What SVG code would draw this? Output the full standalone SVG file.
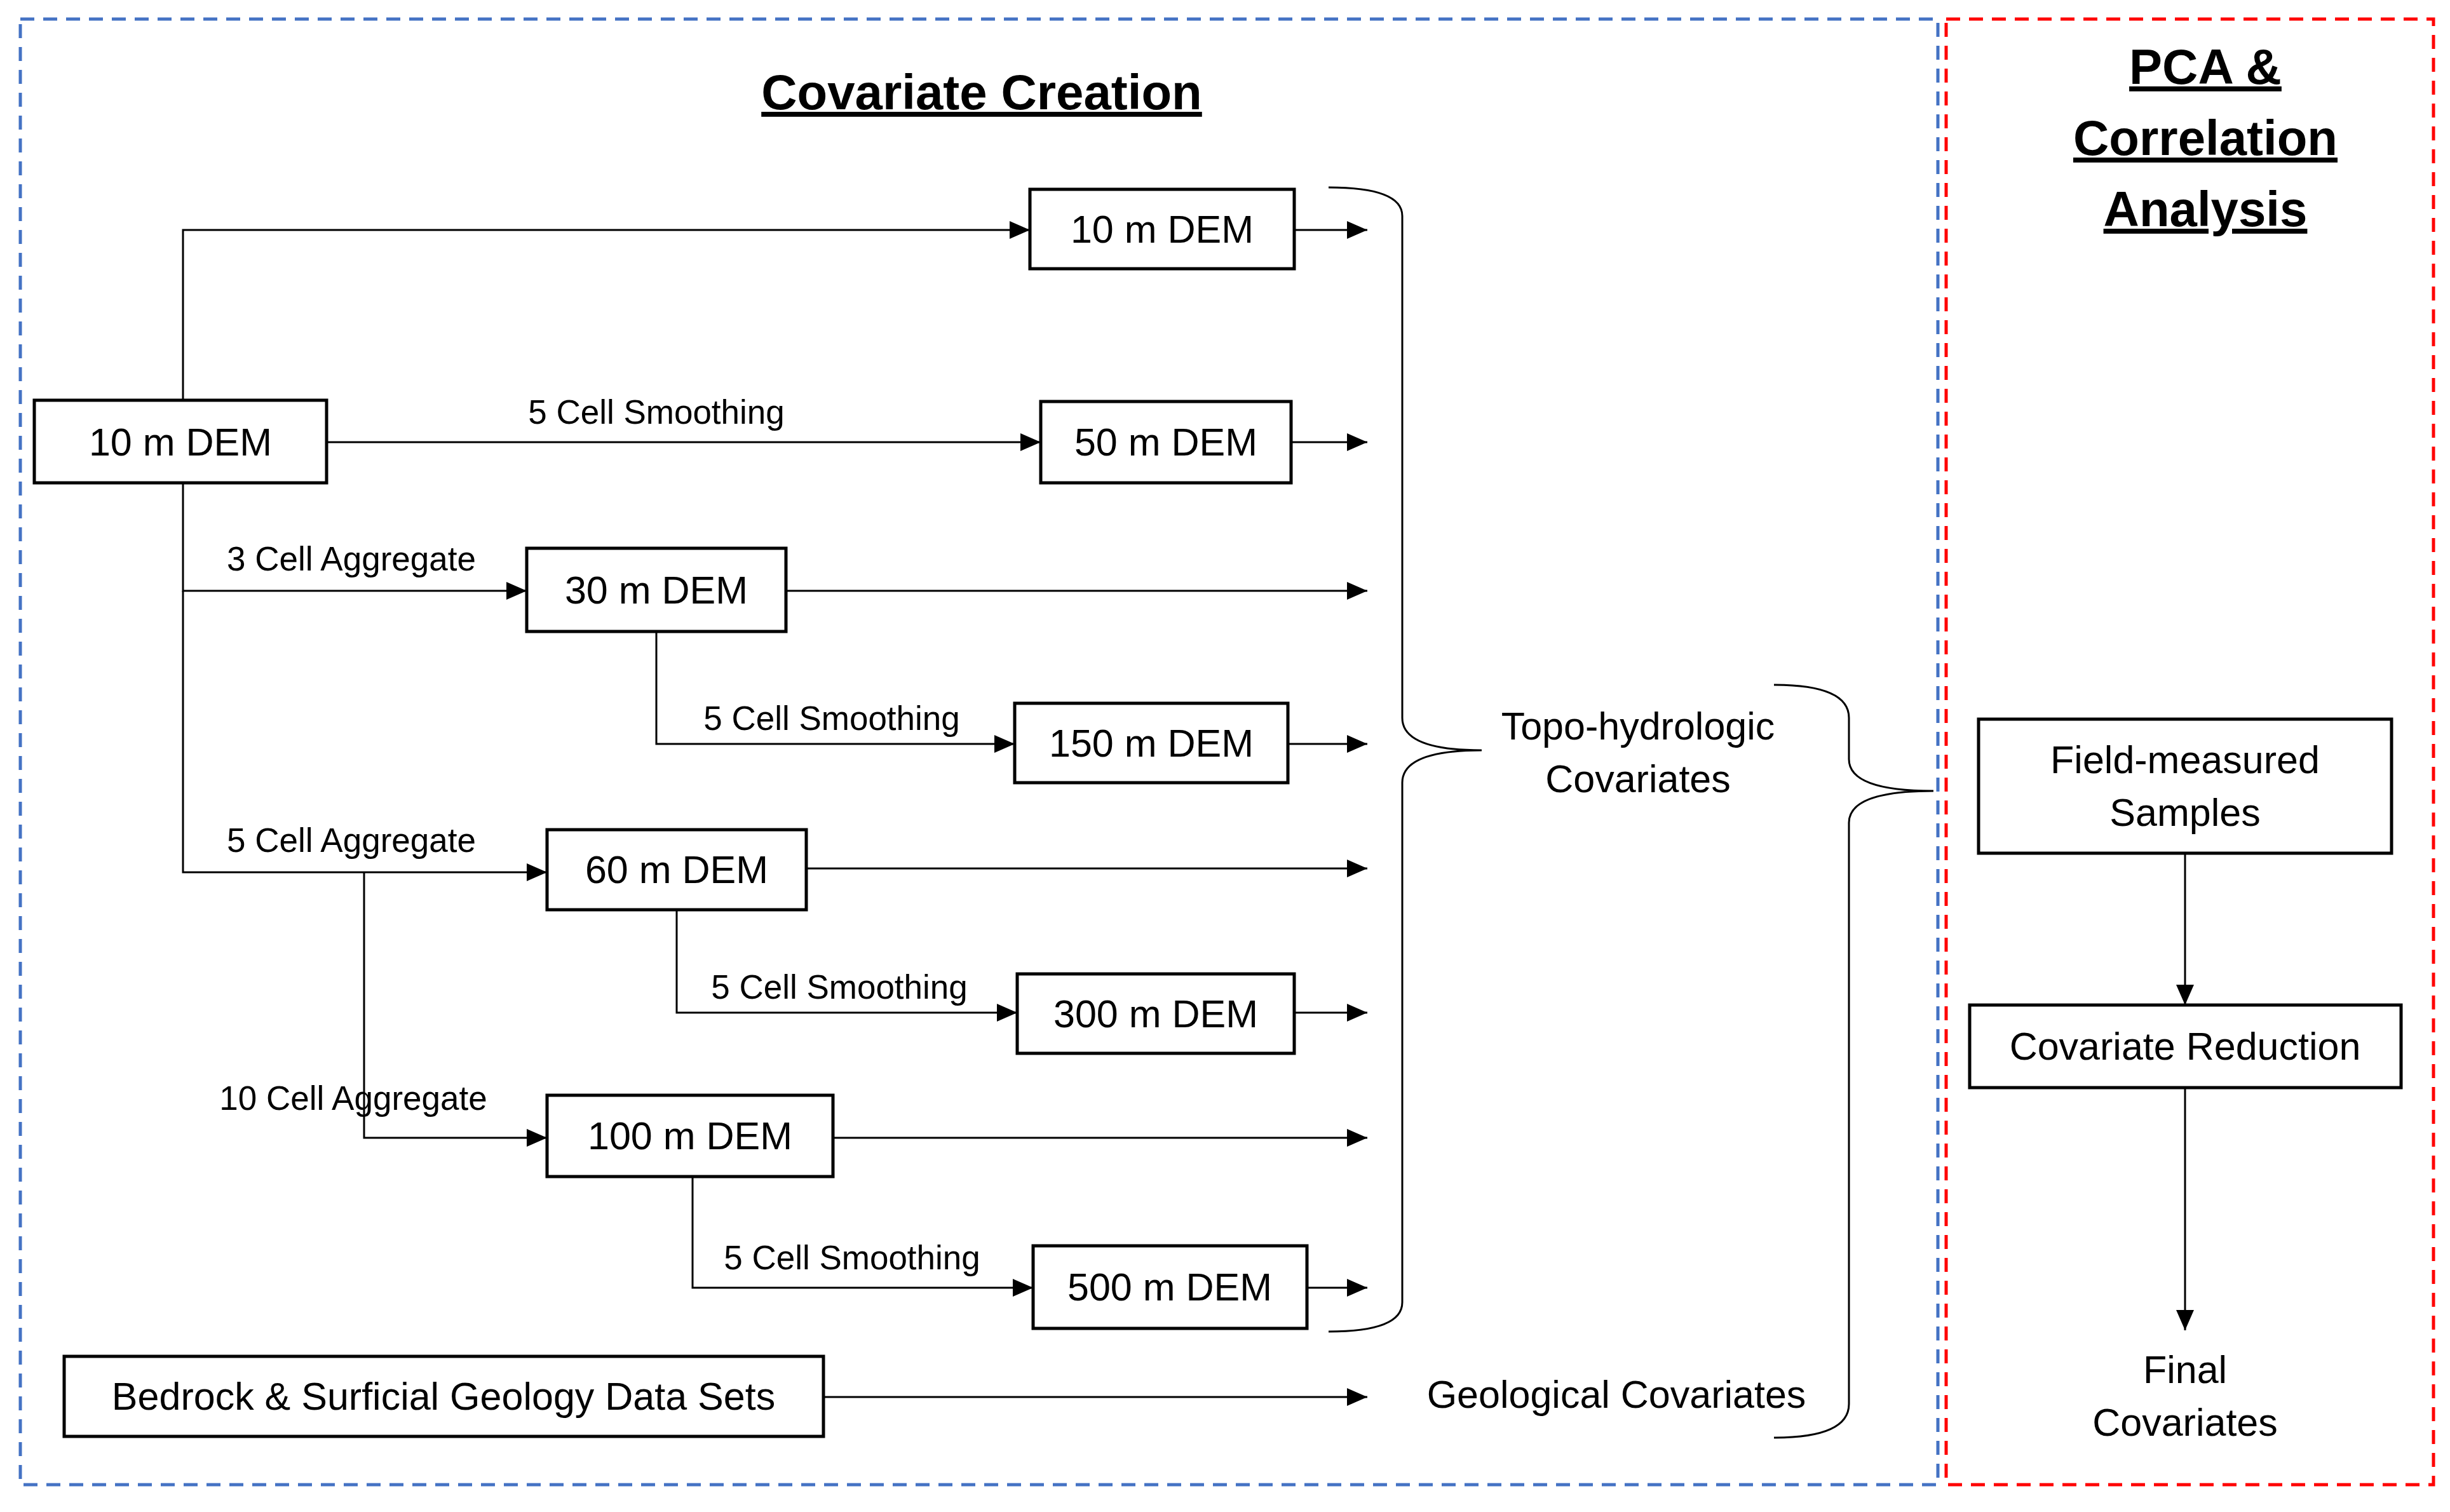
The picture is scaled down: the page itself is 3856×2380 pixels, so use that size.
<svg xmlns="http://www.w3.org/2000/svg" width="3856" height="2380" viewBox="0 0 3856 2380">
<style>
text{font-family:"Liberation Sans",Arial,sans-serif;fill:#000;text-anchor:middle}
.n{font-size:61px}.l{font-size:53px}.t{font-size:78px;font-weight:bold;text-decoration:underline}
.b{fill:#fff;stroke:#000;stroke-width:5}
.c{fill:none;stroke:#000;stroke-width:3;marker-end:url(#A)}
.br{fill:none;stroke:#000;stroke-width:3}
</style>
<defs>
<marker id="A" markerWidth="32" markerHeight="28" refX="32" refY="14" orient="auto" markerUnits="userSpaceOnUse"><path d="M0,0L32,14L0,28z" fill="#000"/></marker></defs>
<rect x="0" y="0" width="3856" height="2380" fill="#fff"/>
<rect x="32" y="30" width="3018" height="2307" fill="none" stroke="#4472C4" stroke-width="5" stroke-dasharray="22,14"/>
<rect x="3063" y="30" width="767" height="2307" fill="none" stroke="#FF0000" stroke-width="5" stroke-dasharray="22,14"/>
<text class="t" x="1545" y="172">Covariate Creation</text>
<text class="t" x="3471" y="132">PCA &amp;</text>
<text class="t" x="3471" y="244">Correlation</text>
<text class="t" x="3471" y="356">Analysis</text>
<g id="connectors">
<path class="c" d="M288,630V362H1621"/>
<path class="c" d="M514,696H1638"/>
<path class="c" d="M288,760V930H829"/>
<path class="c" d="M288,930V1373H861"/>
<path class="c" d="M573,1373V1791H861"/>
<path class="c" d="M1033,994V1171H1597"/>
<path class="c" d="M1065,1432V1594H1601"/>
<path class="c" d="M1090,1852V2027H1626"/>
<path class="c" d="M2037,362H2152"/>
<path class="c" d="M2032,696H2152"/>
<path class="c" d="M1237,930H2152"/>
<path class="c" d="M2027,1171H2152"/>
<path class="c" d="M1269,1367H2152"/>
<path class="c" d="M2037,1594H2152"/>
<path class="c" d="M1311,1791H2152"/>
<path class="c" d="M2057,2027H2152"/>
<path class="c" d="M1296,2199H2152"/>
<path class="c" d="M3439,1343V1582"/>
<path class="c" d="M3439,1712V2094"/>
<path class="br" d="M2091,295Q2207,295 2207,340L2207,1130Q2207,1181 2332,1181Q2207,1181 2207,1232L2207,2050Q2207,2096 2091,2096"/>
<path class="br" d="M2792,1078Q2910,1078 2910,1130L2910,1195Q2910,1245 3043,1245Q2910,1245 2910,1295L2910,2210Q2910,2263 2792,2263"/>
<text class="l" x="1033" y="667">5 Cell Smoothing</text>
<text class="l" x="553" y="898">3 Cell Aggregate</text>
<text class="l" x="553" y="1341">5 Cell Aggregate</text>
<text class="l" x="556" y="1747">10 Cell Aggregate</text>
<text class="l" x="1309" y="1149">5 Cell Smoothing</text>
<text class="l" x="1321" y="1572">5 Cell Smoothing</text>
<text class="l" x="1341" y="1998">5 Cell Smoothing</text>
</g>
<g id="n1"><rect class="b" x="1621" y="298" width="416" height="125"/><text class="n" x="1829" y="382">10 m DEM</text></g>
<g id="n2"><rect class="b" x="54" y="630" width="460" height="130"/><text class="n" x="284" y="717">10 m DEM</text></g>
<g id="n3"><rect class="b" x="1638" y="632" width="394" height="128"/><text class="n" x="1835" y="717">50 m DEM</text></g>
<g id="n4"><rect class="b" x="829" y="863" width="408" height="131"/><text class="n" x="1033" y="950">30 m DEM</text></g>
<g id="n5"><rect class="b" x="1597" y="1107" width="430" height="125"/><text class="n" x="1812" y="1191">150 m DEM</text></g>
<g id="n6"><rect class="b" x="861" y="1306" width="408" height="126"/><text class="n" x="1065" y="1390">60 m DEM</text></g>
<g id="n7"><rect class="b" x="1601" y="1533" width="436" height="125"/><text class="n" x="1819" y="1617">300 m DEM</text></g>
<g id="n8"><rect class="b" x="861" y="1724" width="450" height="128"/><text class="n" x="1086" y="1809">100 m DEM</text></g>
<g id="n9"><rect class="b" x="1626" y="1961" width="431" height="130"/><text class="n" x="1841" y="2047">500 m DEM</text></g>
<g id="n10"><rect class="b" x="101" y="2135" width="1195" height="126"/><text class="n" x="698" y="2219">Bedrock &amp; Surficial Geology Data Sets</text></g>
<g id="n11"><text class="n" x="2578" y="1164">Topo-hydrologic</text><text class="n" x="2578" y="1247">Covariates</text></g>
<g id="n12"><text class="n" x="2544" y="2216">Geological Covariates</text></g>
<g id="n13"><rect class="b" x="3114" y="1132" width="650" height="211"/><text class="n" x="3439" y="1217">Field-measured</text><text class="n" x="3439" y="1300">Samples</text></g>
<g id="n14"><rect class="b" x="3100" y="1582" width="679" height="130"/><text class="n" x="3439" y="1668">Covariate Reduction</text></g>
<g id="n15"><text class="n" x="3439" y="2177">Final</text><text class="n" x="3439" y="2260">Covariates</text></g>
</svg>
